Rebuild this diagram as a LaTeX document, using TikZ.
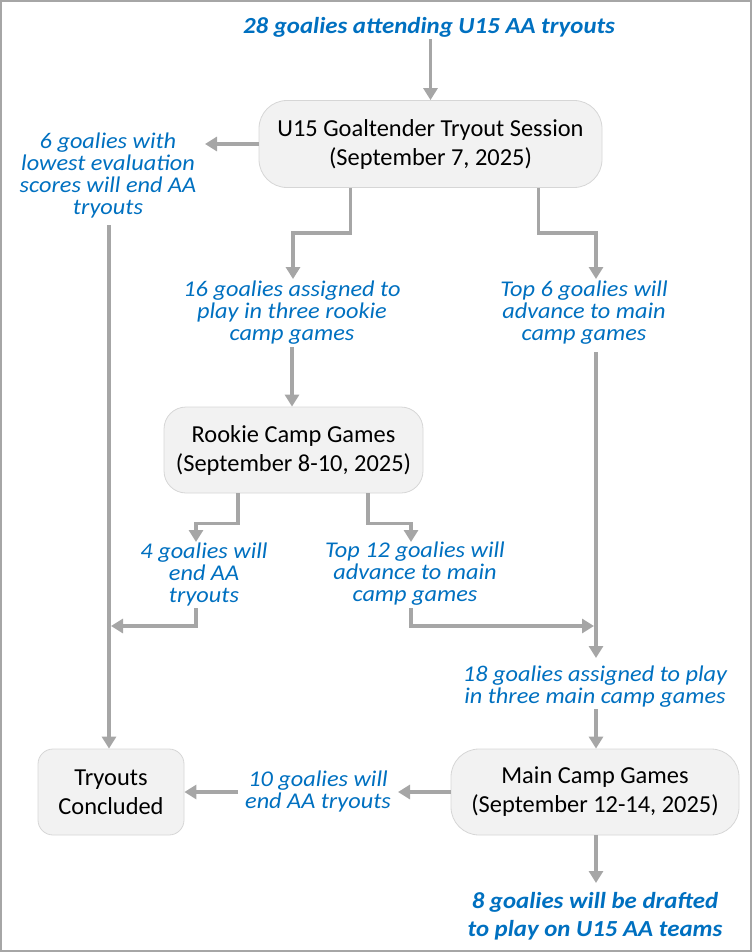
\documentclass[tikz,border=0pt]{standalone}
\usepackage{fontspec}
\setmainfont{Carlito}
\newfontfamily\lblfont{Carlito}[FakeStretch=1.08]
\usetikzlibrary{arrows.meta,calc}
\definecolor{lblue}{HTML}{0070C0}
\definecolor{lgray}{HTML}{A6A6A6}
\definecolor{bfill}{HTML}{F2F2F2}
\definecolor{bdraw}{HTML}{D6D6D6}
\begin{document}
\begin{tikzpicture}[x=1pt,y=-1pt,
  box/.style={draw=bdraw, line width=0.8pt, fill=bfill, rounded corners=28pt, align=center, inner sep=0pt, font=\fontsize{24.4}{29}\selectfont},
  lbl/.style={text=lblue, align=center, inner sep=2pt, font=\lblfont\itshape\fontsize{22.5}{22}\selectfont},
  blbl/.style={lbl, font=\lblfont\bfseries\itshape\fontsize{23}{28}\selectfont},
  arr/.style={draw=lgray, line width=3.2pt, -{Triangle[length=12pt,width=14pt]}},
  ln/.style={draw=lgray, line width=3.2pt}]
\useasboundingbox (0,0) rectangle (752,952);
\draw[draw=lgray, line width=1.5pt] (1,1) rectangle (751,951);
% boxes
\node[box, minimum width=343pt, minimum height=87pt] (b1) at (430.5,144) {U15 Goaltender Tryout Session\\(September 7, 2025)};
\node[box, minimum width=259pt, minimum height=86pt, rounded corners=22pt] (rk) at (293.5,450) {Rookie Camp Games\\(September 8-10, 2025)};
\node[box, minimum width=146pt, minimum height=86pt, rounded corners=15pt] (tc) at (111,792) {Tryouts\\Concluded};
\node[box, minimum width=288pt, minimum height=86pt] (mc) at (595,792) {Main Camp Games\\(September 12-14, 2025)};
% labels
\node[blbl] (t28) at (429,27) {28 goalies attending U15 AA tryouts};
\node[lbl] (l6) at (108,176) {6 goalies with\\lowest evaluation\\scores will end AA\\tryouts};
\node[lbl] (l16) at (292,313) {16 goalies assigned to\\play in three rookie\\camp games};
\node[lbl] (lt6) at (584,313) {Top 6 goalies will\\advance to main\\camp games};
\node[lbl] (l4) at (204,574) {4 goalies will\\end AA\\tryouts};
\node[lbl] (lt12) at (415,574) {Top 12 goalies will\\advance to main\\camp games};
\node[lbl] (l18) at (595,686.5) {18 goalies assigned to play\\in three main camp games};
\node[lbl] (l10) at (318,791) {10 goalies will\\end AA tryouts};
\node[blbl] (l8) at (595,916) {8 goalies will be drafted\\to play on U15 AA teams};
% junction coordinates
\coordinate (jl) at (111,626);
\coordinate (jr) at (594,626);
% connectors
\draw[arr] (t28.south -| b1.north) -- (b1.north);
\draw[arr] (b1.west) -- (b1.west -| 205,0);
\draw[arr] ($(b1.south)+(-80,0)$) -- ++(0,45) -| ($(l16.north)+(1,0)$);
\draw[arr] ($(b1.south)+(108,0)$) -- ++(0,45) -| (596,279);
\draw[arr] (l16.south) -- (rk.north -| l16.south);
\draw[arr] ($(rk.south)+(-55.5,0)$) -- ++(0,30) -| (196,542);
\draw[arr] ($(rk.south)+(74.5,0)$) -- ++(0,30) -| (411,542);
\draw[arr] (196,608) |- (jl);
\draw[arr] (411,608) |- (jr);
\draw[ln] (109,225) -- (109,700);
\draw[arr] (109,700) -- (tc.north -| 109,0);
\draw[arr] (596,352) -- (596,658);
\draw[arr] (l18.south -| 596,0) -- (mc.north -| 596,0);
\draw[arr] (mc.west) -- (398,792);
\draw[arr] (238,792) -- (tc.east);
\draw[arr] (mc.south -| 596,0) -- (596,883);
\end{tikzpicture}
\end{document}
